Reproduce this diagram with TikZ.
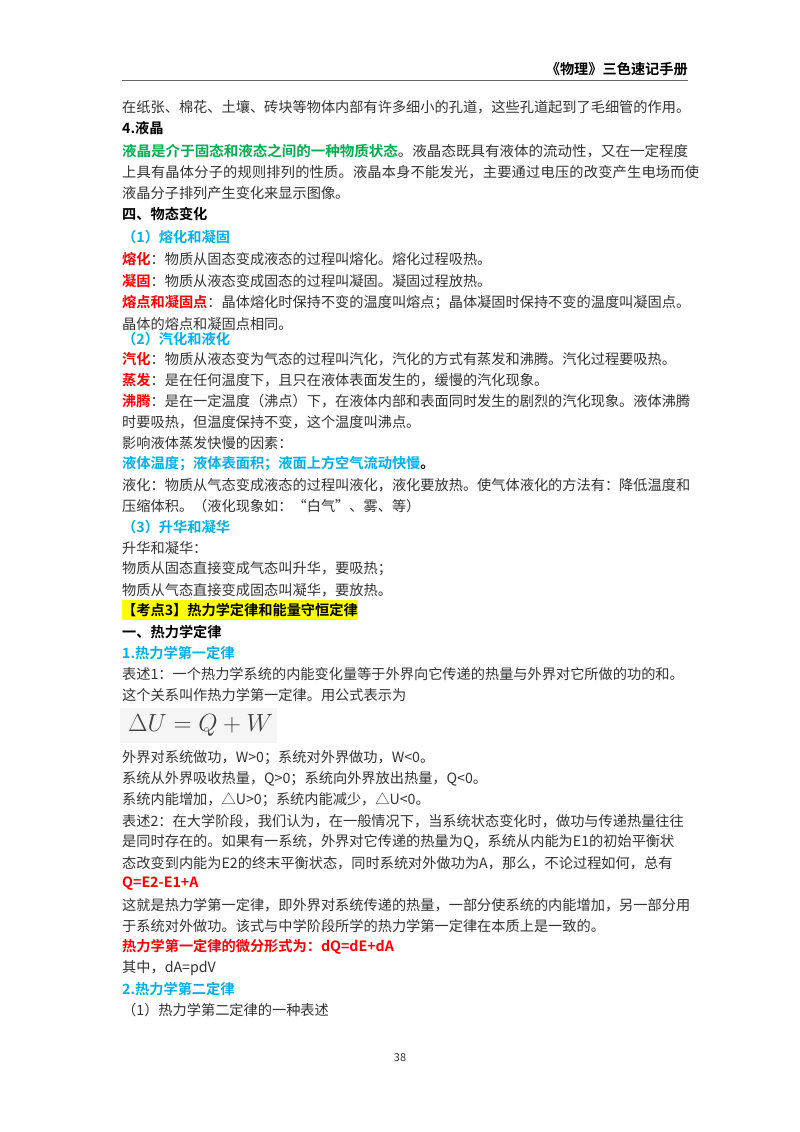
\documentclass[tikz,border=0pt]{standalone}
\usepackage{fontspec}
\usepackage{graphicx}
\setmainfont{Noto Sans CJK SC}[BoldFont={Noto Sans CJK SC Bold}]
\XeTeXlinebreaklocale "zh"
\XeTeXlinebreakskip=0pt plus 3pt
\definecolor{bodyc}{HTML}{333333}
\definecolor{grn}{HTML}{00B050}
\definecolor{cyn}{HTML}{00B0F0}
\definecolor{rd}{HTML}{FF0000}
\definecolor{hl}{HTML}{FFFF00}
\newcommand\Jl[1]{\makebox[566pt][s]{#1}}
\newcommand\Jw[1]{\makebox[566pt][s]{\addfontfeature{LetterSpace=1.6}#1}}
\newcommand\Jr[1]{\resizebox{566pt}{\height}{#1}}
\newcommand\G[1]{\textcolor{grn}{\bfseries #1}}
\newcommand\C[1]{\textcolor{cyn}{\bfseries #1}}
\newcommand\R[1]{\textcolor{rd}{\bfseries #1}}
\newcommand\B[1]{\textcolor{black}{\bfseries #1}}
\tikzset{ln/.style={anchor=west,inner sep=0pt,text=bodyc,font=\fontsize{14.2pt}{16pt}\selectfont}}
\newcommand\Ln[3]{\node[ln] (#1) at (122pt,-#2pt) {#3};}
\begin{document}
\begin{tikzpicture}[x=1pt,y=1pt]
\useasboundingbox[fill=white] (0,0) rectangle (800,-1132);
\node[anchor=east,inner sep=0pt,font=\fontsize{14.2pt}{16pt}\selectfont\bfseries] (hdr) at (688,-69) {《物理》三色速记手册};
\coordinate (rl) at (122,-80); \coordinate (rr) at (688,-80);
\draw[gray!80!black,line width=1pt] (rl) -- (rr);
\Ln{a1}{107}{\Jl{在纸张、棉花、土壤、砖块等物体内部有许多细小的孔道，这些孔道起到了毛细管的作用。}}
\Ln{a2}{128}{\B{4.液晶}}
\Ln{a3}{151}{\Jr{\G{液晶是介于固态和液态之间的一种物质状态}。液晶态既具有液体的流动性，又在一定程度}}
\Ln{a4}{172}{\Jw{上具有晶体分子的规则排列的性质。液晶本身不能发光，主要通过电压的改变产生电场而使}}
\Ln{a5}{193}{液晶分子排列产生变化来显示图像。}
\Ln{a6}{214}{\B{四、物态变化}}
\Ln{a7}{237}{\C{（1）熔化和凝固}}
\Ln{a8}{259}{\R{熔化}：物质从固态变成液态的过程叫熔化。熔化过程吸热。}
\Ln{a9}{281}{\R{凝固}：物质从液态变成固态的过程叫凝固。凝固过程放热。}
\Ln{a10}{303}{\Jl{\R{熔点和凝固点}：晶体熔化时保持不变的温度叫熔点；晶体凝固时保持不变的温度叫凝固点。}}
\Ln{a11}{324}{晶体的熔点和凝固点相同。}
\Ln{a12}{339}{\C{（2）汽化和液化}}
\Ln{a13}{359}{\R{汽化}：物质从液态变为气态的过程叫汽化，汽化的方式有蒸发和沸腾。汽化过程要吸热。}
\Ln{a14}{380}{\R{蒸发}：是在任何温度下，且只在液体表面发生的，缓慢的汽化现象。}
\Ln{a15}{401}{\Jl{\R{沸腾}：是在一定温度（沸点）下，在液体内部和表面同时发生的剧烈的汽化现象。液体沸腾}}
\Ln{a16}{422}{时要吸热，但温度保持不变，这个温度叫沸点。}
\Ln{a17}{443}{影响液体蒸发快慢的因素：}
\Ln{a18}{464}{\C{液体温度；液体表面积；液面上方空气流动快慢}\B{。}}
\Ln{a19}{485}{\Jl{液化：物质从气态变成液态的过程叫液化，液化要放热。使气体液化的方法有：降低温度和}}
\Ln{a20}{506}{压缩体积。（液化现象如：“白气”、雾、等）}
\Ln{a21}{527}{\C{（3）升华和凝华}}
\Ln{a22}{548}{升华和凝华：}
\Ln{a23}{569}{物质从固态直接变成气态叫升华，要吸热；}
\Ln{a24}{590}{物质从气态直接变成固态叫凝华，要放热。}
\node[fill=hl,anchor=west,inner sep=0pt,minimum height=20pt,font=\fontsize{14.2pt}{16pt}\selectfont\bfseries] (a25) at (122,-610) {【考点3】热力学定律和能量守恒定律};
\Ln{a26}{632}{\B{一、热力学定律}}
\Ln{a27}{653}{\C{1.热力学第一定律}}
\Ln{a28}{674}{\Jl{表述1：一个热力学系统的内能变化量等于外界向它传递的热量与外界对它所做的功的和。}}
\Ln{a29}{695}{这个关系叫作热力学第一定律。用公式表示为}
\node[anchor=west,fill=black!4,inner sep=0pt,minimum width=157pt,minimum height=35pt,text=black!75,font=\fontsize{27pt}{30pt}\selectfont] (fm) at (120,-725.5) {\hspace{4pt}$\Delta U = Q + W$\hfill};
\Ln{a30}{758}{外界对系统做功，W>0；系统对外界做功，W<0。}
\Ln{a31}{779}{系统从外界吸收热量，Q>0；系统向外界放出热量，Q<0。}
\Ln{a32}{800}{系统内能增加，△U>0；系统内能减少，△U<0。}
\Ln{a33}{821}{\Jl{表述2：在大学阶段，我们认为，在一般情况下，当系统状态变化时，做功与传递热量往往}}
\Ln{a34}{842}{\Jl{是同时存在的。如果有一系统，外界对它传递的热量为Q，系统从内能为E1的初始平衡状}}
\Ln{a35}{863}{\Jl{态改变到内能为E2的终末平衡状态，同时系统对外做功为A，那么，不论过程如何，总有}}
\Ln{a36}{884}{\R{Q=E2-E1+A}}
\Ln{a37}{905}{\Jl{这就是热力学第一定律，即外界对系统传递的热量，一部分使系统的内能增加，另一部分用}}
\Ln{a38}{926}{于系统对外做功。该式与中学阶段所学的热力学第一定律在本质上是一致的。}
\Ln{a39}{947}{\R{热力学第一定律的微分形式为：dQ=dE+dA}}
\Ln{a40}{968}{其中，dA=pdV}
\Ln{a41}{989}{\C{2.热力学第二定律}}
\Ln{a42}{1010}{（1）热力学第二定律的一种表述}
\node[inner sep=0pt,text=bodyc,font=\fontsize{11pt}{12pt}\selectfont] (pg) at (400,-1058) {38};
\end{tikzpicture}
\end{document}
